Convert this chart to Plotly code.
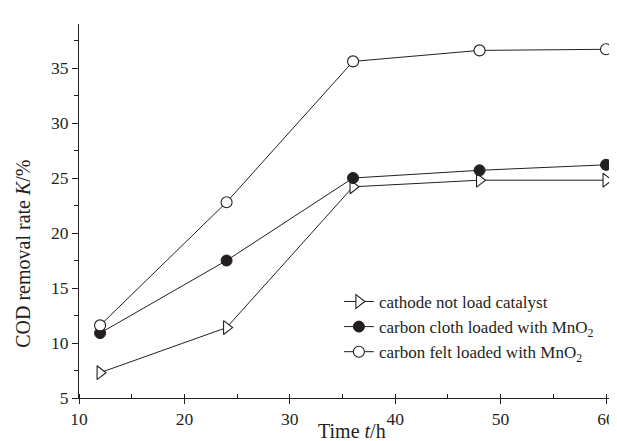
import plotly.graph_objects as go

time_h = [12, 24, 36, 48, 60]
no_catalyst = [7.3, 11.4, 24.2, 24.8, 24.8]
cloth_mno2 = [10.9, 17.5, 25.0, 25.7, 26.2]
felt_mno2 = [11.6, 22.8, 35.6, 36.6, 36.7]

names = ["cathode not load catalyst",
         "carbon cloth loaded with MnO<sub>2</sub>",
         "carbon felt loaded with MnO<sub>2</sub>"]
x_title = "Time <i>t</i>/h"
y_title = "COD removal rate <i>K</i>/%"

FONT = "Liberation Serif"
INK = "#231f20"

fig = go.Figure()
fig.add_trace(go.Scatter(
    x=time_h, y=no_catalyst, name=names[0], mode="lines+markers",
    line=dict(color=INK, width=1),
    marker=dict(symbol="triangle-right", size=12, color="white",
                line=dict(color=INK, width=1.1))))
fig.add_trace(go.Scatter(
    x=time_h, y=cloth_mno2, name=names[1], mode="lines+markers",
    line=dict(color=INK, width=1),
    marker=dict(symbol="circle", size=11, color=INK,
                line=dict(color=INK, width=1))))
fig.add_trace(go.Scatter(
    x=time_h, y=felt_mno2, name=names[2], mode="lines+markers",
    line=dict(color=INK, width=1),
    marker=dict(symbol="circle", size=11, color="white",
                line=dict(color=INK, width=1.1))))

fig.update_layout(
    width=617, height=441,
    margin=dict(l=71, r=0, t=16, b=51),
    paper_bgcolor="white", plot_bgcolor="white",
    font=dict(family=FONT, size=17, color=INK),
    showlegend=True,
    legend=dict(x=0.476, y=0.305, xanchor="left", yanchor="top",
                bgcolor="rgba(0,0,0,0)", borderwidth=0,
                font=dict(family=FONT, size=17, color=INK),
                tracegroupgap=0, itemsizing="trace"),
    xaxis=dict(range=[10, 61.8], tickvals=[10, 20, 30, 40, 50, 60],
               showgrid=False, zeroline=False, showline=True,
               linecolor=INK, linewidth=1.2,
               ticks="outside", ticklen=5, tickcolor=INK,
               tickfont=dict(size=17.5),
               minor=dict(dtick=5, tick0=10, ticks="inside", ticklen=4,
                          tickcolor=INK, showgrid=False)),
    yaxis=dict(range=[5, 39], tickvals=[5, 10, 15, 20, 25, 30, 35],
               showgrid=False, zeroline=False, showline=True,
               linecolor=INK, linewidth=1.2,
               ticks="outside", ticklen=6, tickcolor=INK,
               tickfont=dict(size=17.5),
               minor=dict(dtick=2.5, tick0=5, ticks="outside", ticklen=4,
                          tickcolor=INK, showgrid=False)),
    annotations=[
        dict(text=x_title, xref="paper", yref="paper", x=0.5, y=-0.088,
             xanchor="center", yanchor="middle", showarrow=False,
             font=dict(size=20, family=FONT, color=INK)),
        dict(text=y_title, xref="paper", yref="paper", x=-0.103, y=0.385,
             xanchor="center", yanchor="middle", textangle=-90,
             showarrow=False, font=dict(size=20, family=FONT, color=INK)),
    ],
)

fig.write_html("out.html")
